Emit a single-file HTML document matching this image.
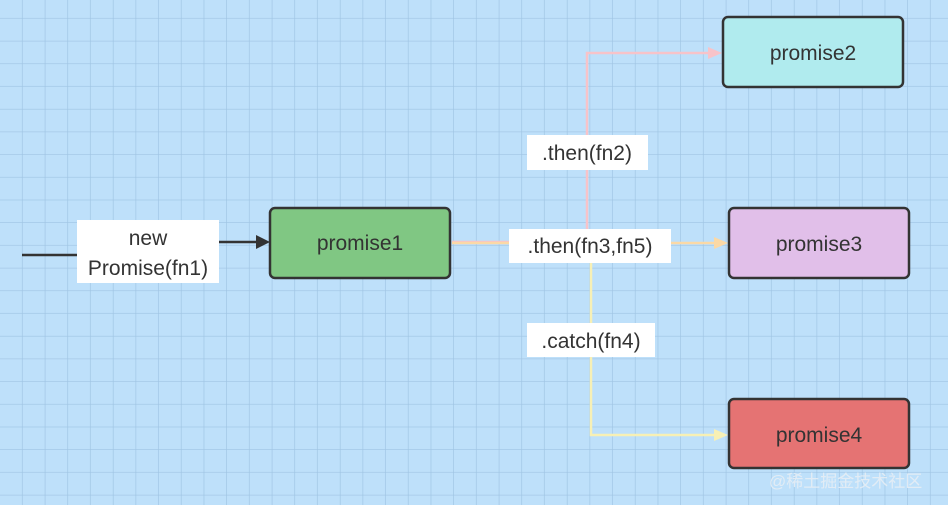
<!DOCTYPE html>
<html><head><meta charset="utf-8"><style>
html,body{margin:0;padding:0;width:948px;height:505px;overflow:hidden;background:#bee0fa}
svg{display:block}
text{font-family:"Liberation Sans","DejaVu Sans",sans-serif;font-size:21px;fill:#333}
</style></head><body>
<svg width="948" height="505" viewBox="0 0 948 505">
<defs>
<pattern id="g" x="0" y="-4" width="22.7" height="22.7" patternUnits="userSpaceOnUse">
<path d="M22.7 0V22.7M0 22.7H22.7" stroke="#9fc4e3" stroke-width="1.3" fill="none"/>
</pattern>
</defs>
<rect width="948" height="505" fill="#bee0fa"/>
<rect width="948" height="505" fill="url(#g)"/>
<line x1="22" y1="255" x2="80" y2="255" stroke="#333" stroke-width="2.5"/>
<line x1="215" y1="242" x2="256" y2="242" stroke="#333" stroke-width="2.5"/>
<polygon points="256,235 270,242 256,249" fill="#333"/>
<path d="M452 242H587V53H710" stroke="#f7c3c9" stroke-width="2.5" fill="none"/>
<polygon points="708,47 722,53 708,59" fill="#f7c3c9"/>
<path d="M452 243H714" stroke="#fbd9a6" stroke-width="2.5" fill="none"/>
<polygon points="714,237 728,243 714,249" fill="#fbd9a6"/>
<path d="M591 262V435H714" stroke="#f7f0b5" stroke-width="2.5" fill="none"/>
<polygon points="714,429 728,435 714,441" fill="#f7f0b5"/>
<rect x="77" y="220" width="142" height="63" fill="#fff"/>
<text x="148" y="245" text-anchor="middle">new</text>
<text x="148" y="275" text-anchor="middle">Promise(fn1)</text>
<rect x="527" y="135" width="121" height="35" fill="#fff"/>
<text x="587" y="160" text-anchor="middle">.then(fn2)</text>
<rect x="509" y="229" width="162" height="34" fill="#fff"/>
<text x="590" y="253" text-anchor="middle">.then(fn3,fn5)</text>
<rect x="527" y="323" width="128" height="34" fill="#fff"/>
<text x="591" y="348" text-anchor="middle">.catch(fn4)</text>
<rect x="270" y="208" width="180" height="70" rx="5" fill="#80c783" stroke="#333" stroke-width="2.5"/>
<text x="360" y="250" text-anchor="middle">promise1</text>
<rect x="723" y="17" width="180" height="70" rx="5" fill="#b0ebee" stroke="#333" stroke-width="2.5"/>
<text x="813" y="60" text-anchor="middle">promise2</text>
<rect x="729" y="208" width="180" height="70" rx="5" fill="#e1bfe9" stroke="#333" stroke-width="2.5"/>
<text x="819" y="251" text-anchor="middle">promise3</text>
<rect x="729" y="399" width="180" height="69" rx="5" fill="#e57373" stroke="#333" stroke-width="2.5"/>
<text x="819" y="442" text-anchor="middle">promise4</text>
<text x="769" y="487" style="font-family:'Liberation Sans','Noto Sans CJK SC',sans-serif;font-size:17px;fill:#e6eef5;opacity:.9">@稀土掘金技术社区</text>
</svg>
</body></html>
